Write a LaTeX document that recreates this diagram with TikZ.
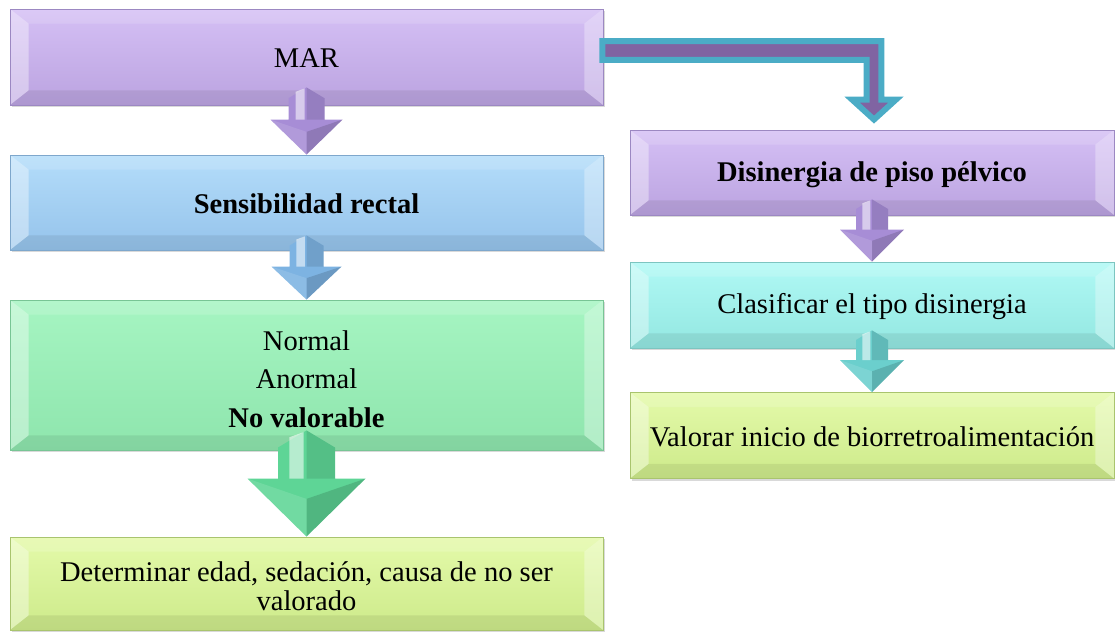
\documentclass[tikz,border=0pt]{standalone}
\usepackage{fontspec}
\setmainfont{Liberation Serif}
\usetikzlibrary{calc,shadows}
\definecolor{purpT}{HTML}{D5C0F5}\definecolor{purpB}{HTML}{BBA3E0}\definecolor{purpD}{HTML}{9C88C2}
\definecolor{blueT}{HTML}{B4DDFA}\definecolor{blueB}{HTML}{95C3EB}\definecolor{blueD}{HTML}{7EA7CC}
\definecolor{grnT}{HTML}{A6F5C2}\definecolor{grnB}{HTML}{8EE5AD}\definecolor{grnD}{HTML}{78C595}
\definecolor{ylwT}{HTML}{E4FAAA}\definecolor{ylwB}{HTML}{CDEA8A}\definecolor{ylwD}{HTML}{A9C46E}
\definecolor{cyT}{HTML}{B0F9F5}\definecolor{cyB}{HTML}{93E7E1}\definecolor{cyD}{HTML}{7CC5C0}
\definecolor{arP}{HTML}{A78DD6}\definecolor{arB}{HTML}{7DB3E2}\definecolor{arG}{HTML}{5ED596}\definecolor{arT}{HTML}{6BCFCD}
\definecolor{bentF}{HTML}{8064A2}\definecolor{bentL}{HTML}{4BACC6}
\def\ppb{path picture bounding box}
\newcommand\lowertext[2]{\raisebox{-#1}[\height][\depth]{#2}}
\tikzset{
  bevelbox/.style={rectangle, inner sep=0pt, line width=0.6pt, align=center,
    font=\fontsize{21.4}{25}\selectfont,
    drop shadow={shadow xshift=1.5pt, shadow yshift=-1.8pt, opacity=0.3},
    path picture={
      \fill[white,opacity=.38] (\ppb.north west) -- ([xshift=14pt,yshift=-11pt]\ppb.north west) -- ([xshift=14pt,yshift=11pt]\ppb.south west) -- (\ppb.south west) -- cycle;
      \fill[white,opacity=.32] (\ppb.north east) -- ([xshift=-14pt,yshift=-11pt]\ppb.north east) -- ([xshift=-14pt,yshift=11pt]\ppb.south east) -- (\ppb.south east) -- cycle;
      \fill[white,opacity=.15] (\ppb.north west) -- ([xshift=14pt,yshift=-11pt]\ppb.north west) -- ([xshift=-14pt,yshift=-11pt]\ppb.north east) -- (\ppb.north east) -- cycle;
      \fill[black,opacity=.07] (\ppb.south west) -- ([xshift=14pt,yshift=11pt]\ppb.south west) -- ([xshift=-14pt,yshift=11pt]\ppb.south east) -- (\ppb.south east) -- cycle;
    }},
  purplebox/.style={bevelbox, top color=purpT, bottom color=purpB, draw=purpD},
  bluebox/.style={bevelbox, top color=blueT, bottom color=blueB, draw=blueD},
  greenbox/.style={bevelbox, top color=grnT, bottom color=grnB, draw=grnD},
  yellowbox/.style={bevelbox, top color=ylwT, bottom color=ylwB, draw=ylwD},
  cyanbox/.style={bevelbox, top color=cyT, bottom color=cyB, draw=cyD},
  bentarrow/.style={fill=bentF, draw=bentL, line width=4.4pt, miter limit=10}
}
% from, to, top offset, shaft half, head half, head length, colour
\newcommand\blockdown[7]{%
  \fill[#7] ($(#1.south)+(0,-#3)$) -- ($(#1.south)+(#4,-#3+0.6*#4)$) -- ($(#2.north)+(#4,-#6)$) -- ($(#2.north)+(#5,-#6)$) -- (#2.north) -- ($(#2.north)+(-#5,-#6)$) -- ($(#2.north)+(-#4,-#6)$) -- ($(#1.south)+(-#4,-#3+0.6*#4)$) -- cycle;
  \fill[white,opacity=.55] ($(#1.south)+(-0.6*#4,-#3+0.24*#4)$) -- ($(#1.south)+(-0.1*#4,-#3+0.06*#4)$) -- ($(#2.north)+(-0.1*#4,-#6)$) -- ($(#2.north)+(-0.6*#4,-#6)$) -- cycle;
  \fill[black,opacity=.10] ($(#1.south)+(0,-#3)$) -- ($(#1.south)+(#4,-#3+0.6*#4)$) -- ($(#2.north)+(#4,-#6)$) -- ($(#2.north)+(0,-#6)$) -- cycle;
  \fill[black,opacity=.14] (#2.north) -- ($(#2.north)+(#5,-#6)$) -- ($(#2.north)+(0,-#6+0.35*#6)$) -- cycle;
  \fill[white,opacity=.12] (#2.north) -- ($(#2.north)+(-#5,-#6)$) -- ($(#2.north)+(0,-#6+0.35*#6)$) -- cycle;
}
\begin{document}
\begin{tikzpicture}[x=0.75pt,y=-0.75pt]
\useasboundingbox (0,0) rectangle (1115,632);
% left column
\node[purplebox, minimum width=444.75pt, minimum height=72pt] (mar) at (306.5,57) {\lowertext{0.75pt}{MAR}};
\node[bluebox, minimum width=444.75pt, minimum height=71.25pt] (sens) at (306.5,202.5) {\lowertext{0.75pt}{\textbf{Sensibilidad rectal}}};
\node[greenbox, minimum width=444.75pt, minimum height=112.5pt] (norm) at (306.5,375) {\lowertext{5.25pt}{\begin{tabular}{@{}c@{}}Normal\\[4pt]Anormal\\[4pt]\textbf{No valorable}\end{tabular}}};
\node[yellowbox, minimum width=444.75pt, minimum height=69.75pt] (det) at (306.5,583.5) {\lowertext{4.5pt}{\begin{tabular}{@{}c@{}}Determinar edad, sedación, causa de no ser\\[-3.5pt]valorado\end{tabular}}};
% right column
\node[purplebox, minimum width=363pt, minimum height=63.75pt] (dis) at (872,172.5) {\lowertext{1.5pt}{\textbf{Disinergia de piso pélvico}}};
\node[cyanbox, minimum width=363pt, minimum height=64.5pt] (cla) at (872,305) {\lowertext{1.5pt}{Clasificar el tipo disinergia}};
\node[yellowbox, minimum width=363pt, minimum height=64.5pt] (val) at (872,435.5) {\lowertext{0.75pt}{Valorar inicio de biorretroalimentación}};
% block arrows
\blockdown{mar}{sens}{18}{18}{36}{35}{arP}
\blockdown{sens}{norm}{15}{17}{35}{33}{arB}
\blockdown{norm}{det}{20}{28.5}{59}{58}{arG}
\blockdown{dis}{cla}{16}{16}{32}{32}{arP}
\blockdown{cla}{val}{18}{16}{32}{32}{arT}
% bent arrow
\coordinate (bs) at ($(mar.east)+(-1,-6.5)$);
\coordinate (bt) at ($(dis.north)+(2,-10)$);
\path[bentarrow] let \p1=(bs), \p2=(bt) in
  (\x1,\y1+7pt) -- (\x2+5.5pt,\y1+7pt) -- (\x2+5.5pt,\y2+15pt) -- (\x2+16.5pt,\y2+15pt) -- (\x2,\y2)
  -- (\x2-16.5pt,\y2+15pt) -- (\x2-5.5pt,\y2+15pt) -- (\x2-5.5pt,\y1-7pt) -- (\x1,\y1-7pt) -- cycle;
\end{tikzpicture}
\end{document}
